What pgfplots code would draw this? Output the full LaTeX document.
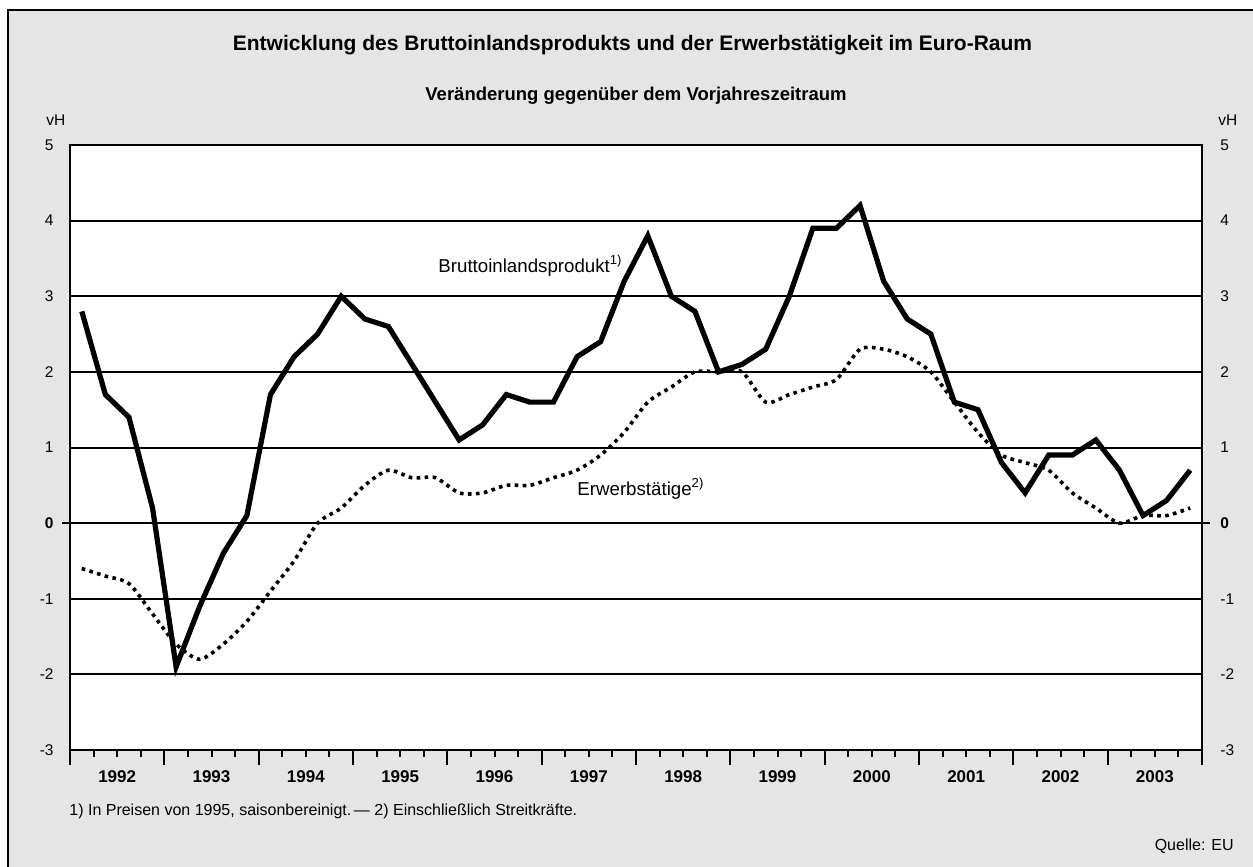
\documentclass[border=0pt]{standalone}
\usepackage{fontspec}
\setmainfont{Liberation Sans}
\usepackage{pgfplots}
\pgfplotsset{compat=1.18}
\usepackage{pgfplotstable}
\definecolor{bg}{RGB}{229,229,229}

\pgfplotstableread{
x y
0.5 2.8
1.5 1.7
2.5 1.4
3.5 0.2
4.5 -1.9
5.5 -1.1
6.5 -0.4
7.5 0.1
8.5 1.7
9.5 2.2
10.5 2.5
11.5 3.0
12.5 2.7
13.5 2.6
14.5 2.1
15.5 1.6
16.5 1.1
17.5 1.3
18.5 1.7
19.5 1.6
20.5 1.6
21.5 2.2
22.5 2.4
23.5 3.2
24.5 3.8
25.5 3.0
26.5 2.8
27.5 2.0
28.5 2.1
29.5 2.3
30.5 3.0
31.5 3.9
32.5 3.9
33.5 4.2
34.5 3.2
35.5 2.7
36.5 2.5
37.5 1.6
38.5 1.5
39.5 0.8
40.5 0.4
41.5 0.9
42.5 0.9
43.5 1.1
44.5 0.7
45.5 0.1
46.5 0.3
47.5 0.7
}\gdp

\pgfplotstableread{
x y
0.5 -0.6
1.5 -0.7
2.5 -0.8
3.5 -1.2
4.5 -1.6
5.5 -1.8
6.5 -1.6
7.5 -1.3
8.5 -0.9
9.5 -0.5
10.5 0.0
11.5 0.2
12.5 0.5
13.5 0.7
14.5 0.6
15.5 0.6
16.5 0.4
17.5 0.4
18.5 0.5
19.5 0.5
20.5 0.6
21.5 0.7
22.5 0.9
23.5 1.2
24.5 1.6
25.5 1.8
26.5 2.0
27.5 2.0
28.5 2.0
29.5 1.6
30.5 1.7
31.5 1.8
32.5 1.9
33.5 2.3
34.5 2.3
35.5 2.2
36.5 2.0
37.5 1.6
38.5 1.2
39.5 0.9
40.5 0.8
41.5 0.7
42.5 0.4
43.5 0.2
44.5 0.0
45.5 0.1
46.5 0.1
47.5 0.2
}\emp

\begin{document}
\begin{tikzpicture}
\useasboundingbox (0,0) rectangle (626.5pt,-433.5pt);
\fill[white] (0,0) rectangle (626.5pt,-433.5pt);
\fill[bg] (4pt,-5pt) rectangle (626.5pt,-433.5pt);
\draw[line width=1pt] (4pt,-433.5pt) -- (4pt,-5pt) -- (626.5pt,-5pt);

\begin{axis}[
  at={(35pt,-375pt)}, anchor=south west,
  scale only axis, width=566pt, height=302.5pt,
  xmin=0, xmax=48, ymin=-3, ymax=5,
  axis background/.style={fill=white},
  axis line style={line width=1.2pt},
  ticklabel style={font=\fontsize{7.75}{9}\selectfont},
  ytick={-3,-2,-1,0,1,2,3,4,5},
  yticklabels={-3,-2,-1,\textbf{0},1,2,3,4,5},
  ytick style={draw=none},
  ymajorgrids, grid style={black, line width=1pt},
  yticklabel style={anchor=east, inner sep=0pt, xshift=-0.5pt},
  xtick={0,4,...,48}, xticklabels={},
  minor xtick={0,1,...,48},
  xtick pos=bottom,
  tick align=outside,
  major tick length=7.5pt, minor tick length=3.5pt,
  xtick style={black, line width=1pt},
  extra x ticks={2,6,10,14,18,22,26,30,34,38,42,46},
  extra x tick labels={1992,1993,1994,1995,1996,1997,1998,1999,2000,2001,2002,2003},
  extra x tick style={major tick length=0pt, grid=none,
    xticklabel style={font=\bfseries\fontsize{8.5}{10}\selectfont, anchor=base, yshift=-16pt}},
  extra y ticks={0}, extra y tick labels={},
  extra y tick style={major tick length=4pt, grid=none, ytick style={draw=black, line width=1pt}},
]
\addplot[black, line width=1.8pt, dash pattern=on 1.8pt off 2.2pt, smooth, tension=0.45] table {\emp};
\addplot[black, line width=2.6pt] table {\gdp};
\end{axis}

\begin{axis}[
  at={(35pt,-375pt)}, anchor=south west,
  scale only axis, width=566pt, height=302.5pt,
  xmin=0, xmax=48, ymin=-3, ymax=5,
  axis line style={draw=none},
  xtick=\empty,
  ytick={-3,-2,-1,0,1,2,3,4,5},
  yticklabels={-3,-2,-1,\textbf{0},1,2,3,4,5},
  ytick style={draw=none},
  yticklabel pos=right,
  ticklabel style={font=\fontsize{7.75}{9}\selectfont},
  yticklabel style={anchor=west, inner sep=0pt, xshift=9pt},
]
\end{axis}

\node[anchor=base, inner sep=0pt, font=\bfseries\fontsize{10.5}{12}\selectfont] at (316.25pt,-25pt)
  {Entwicklung des Bruttoinlandsprodukts und der Erwerbstätigkeit im Euro-Raum};
\node[anchor=base, inner sep=0pt, font=\bfseries\fontsize{9.25}{11}\selectfont] at (318pt,-50pt)
  {Veränderung gegenüber dem Vorjahreszeitraum};
\node[anchor=base west, inner sep=0pt, font=\fontsize{7.75}{9}\selectfont] at (23pt,-62.5pt) {vH};
\node[anchor=base west, inner sep=0pt, font=\fontsize{7.75}{9}\selectfont] at (609pt,-62.5pt) {vH};
\node[anchor=base west, inner sep=0pt, font=\fontsize{9.35}{11}\selectfont] at (219pt,-136pt)
  {Bruttoinlandsprodukt\textsuperscript{1)}};
\node[anchor=base west, inner sep=0pt, font=\fontsize{9.35}{11}\selectfont] at (288.5pt,-247.5pt)
  {Erwerbstätige\textsuperscript{2)}};
\node[anchor=base west, inner sep=0pt, font=\fontsize{8}{9.5}\selectfont] at (34.5pt,-407.5pt)
  {1) In Preisen von 1995, saisonbereinigt.\,— 2) Einschließlich Streitkräfte.};
\node[anchor=base east, inner sep=0pt, font=\fontsize{8}{9.5}\selectfont] at (617pt,-425pt)
  {Quelle: EU};
\end{tikzpicture}
\end{document}
